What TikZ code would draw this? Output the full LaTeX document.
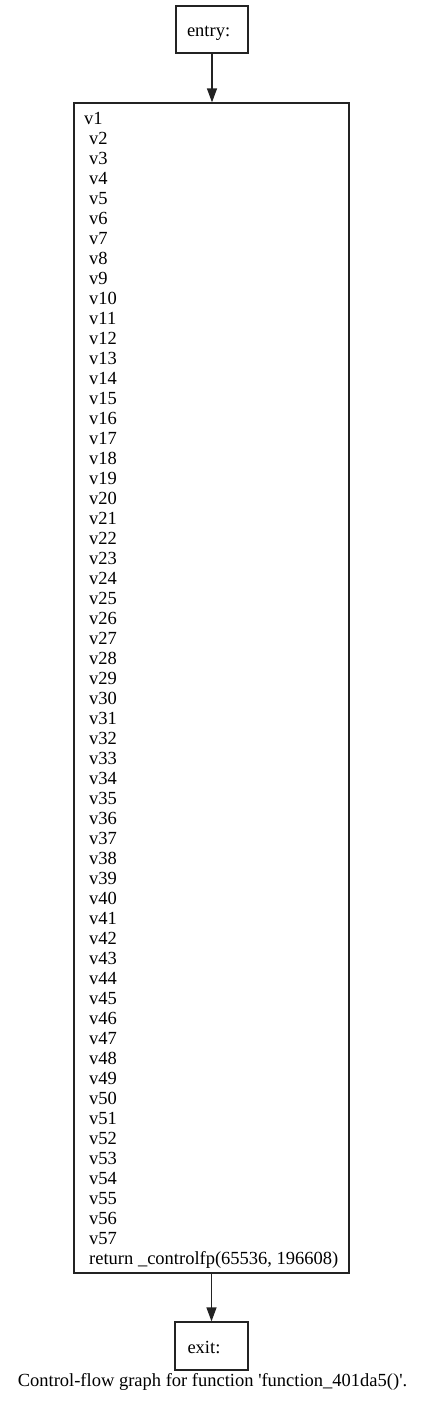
\documentclass[tikz,border=0pt]{standalone}
\usepackage{fontspec}
\setmainfont{Liberation Serif}
\usetikzlibrary{positioning,calc,arrows.meta}
\definecolor{boxline}{RGB}{35,35,35}

\begin{document}
\begin{tikzpicture}[x=1pt,y=-1pt,
    font=\fontsize{18.5}{20}\selectfont,
    blockbox/.style={draw=boxline,line width=1.3pt,inner sep=0pt},
    endbox/.style={blockbox,text height=14.5pt,text depth=0pt,align=left},
    linetext/.style={anchor=base west,inner sep=0pt},
    flow/.style={draw=boxline,line width=1.3pt,-{Triangle[length=14pt,width=10pt]}}]
  \useasboundingbox (0,0) rectangle (424,1408);
  \node[endbox,minimum width=72pt,minimum height=47pt,
        text width=50pt,inner xsep=11pt] (entry) at (212,29.5) {entry:};
  \node[blockbox,minimum width=275pt,minimum height=1170pt] (block) at (211.5,688) {};
  \node[linetext] (v1) at (84,124) {v1};
  \foreach \i in {2,...,57}
    \node[linetext] (v\i) at (89,{124+20*(\i-1)}) {v\i};
  \node[linetext] (ret) at (89,1264) {return \_controlfp(65536, 196608)};
  \node[endbox,minimum width=73pt,minimum height=48pt,
        text width=48pt,inner xsep=12.5pt] (exit) at (211.5,1346) {exit:};
  \draw[flow] (entry.south) -- (entry.south |- block.north);
  \draw[flow] (block.south) -- (block.south |- exit.north);
  \node[anchor=base,inner sep=0pt] (caption) at (212.5,1386)
    {Control-flow graph for function \textquotesingle function\_401da5()\textquotesingle .};
\end{tikzpicture}
\end{document}
